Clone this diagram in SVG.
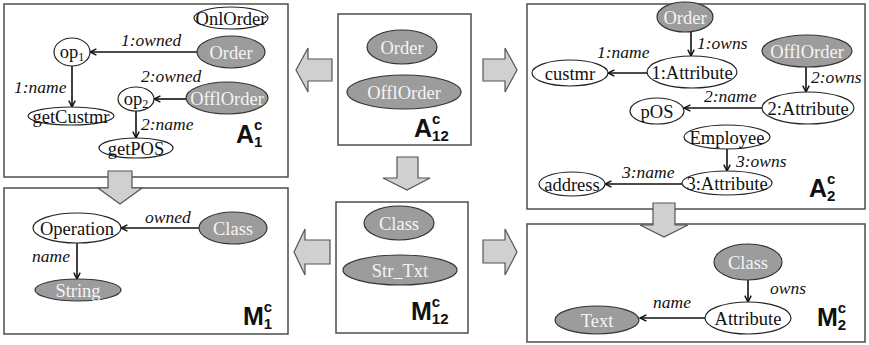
<svg xmlns="http://www.w3.org/2000/svg" width="869" height="345" viewBox="0 0 869 345">
  <style>
    .box { fill: #ffffff; stroke: #4d4d4d; stroke-width: 1.5; }
    .blk { fill: #d0d0d0; stroke: #555555; stroke-width: 1.2; stroke-linejoin: miter; }
    .nw { fill: #ffffff; stroke: #222222; stroke-width: 1.2; }
    .ng { fill: #9c9c9c; stroke: #333333; stroke-width: 1.2; }
    .t { font-family: "Liberation Serif", "Times New Roman", serif; font-size: 18.5px; text-anchor: middle; fill: #111111; }
    .tg { font-family: "Liberation Serif", "Times New Roman", serif; font-size: 18.5px; text-anchor: middle; fill: #f4f4f4; }
    .lbl { font-family: "Liberation Serif", "Times New Roman", serif; font-size: 17.5px; font-style: italic; fill: #111111; }
    .edge { fill: none; stroke: #111111; stroke-width: 1.6; marker-end: url(#arr); }
    .big { font-family: "Liberation Sans", Arial, sans-serif; font-weight: bold; fill: #111111; font-size: 25px; }
    .sup { font-size: 15px; }
  </style>
  <defs>
    <marker id="arr" viewBox="0 0 10 10" refX="9" refY="5" markerWidth="8" markerHeight="8" markerUnits="userSpaceOnUse" orient="auto">
      <path d="M1,1 L9,5 L1,9" fill="none" stroke="#111111" stroke-width="1.8"/>
    </marker>
  </defs>

  <!-- panels -->
  <g id="panels">
    <rect class="box" x="4" y="4" width="284" height="173"/>
    <rect class="box" x="338" y="14" width="133" height="131"/>
    <rect class="box" x="527" y="4" width="338" height="205"/>
    <rect class="box" x="4" y="188" width="284" height="146"/>
    <rect class="box" x="336" y="202" width="132" height="131"/>
    <rect class="box" x="527" y="224" width="338" height="118"/>
  </g>

  <!-- block arrows between panels -->
  <g id="block-arrows">
    <path class="blk" d="M332,59 L308,59 L308,48 L296,70 L308,92 L308,81 L332,81 Z"/>
    <path class="blk" d="M483,59 L505,59 L505,48 L517,70 L505,92 L505,81 L483,81 Z"/>
    <path class="blk" d="M397,157 L418,157 L418,178 L430,178 L407,190 L383,178 L397,178 Z"/>
    <path class="blk" d="M108,171 L132,171 L132,188 L142,188 L120,204 L98,188 L108,188 Z"/>
    <path class="blk" d="M653,203 L675,203 L675,225 L688,225 L664,237 L640,225 L653,225 Z"/>
    <path class="blk" d="M330,240 L305,240 L305,229 L294,252 L305,275 L305,264 L330,264 Z"/>
    <path class="blk" d="M483,240 L505,240 L505,229 L517,252 L505,275 L505,263 L483,263 Z"/>
  </g>

  <!-- connectors -->
  <g id="connectors">
    <!-- A1 -->
    <path class="edge" d="M197,52 L90,52"/>
    <path class="edge" d="M72,66 L72,107"/>
    <path class="edge" d="M186,99 L154,99"/>
    <path class="edge" d="M136,111 L136,138"/>
    <!-- A2 -->
    <path class="edge" d="M691,32 L691,56"/>
    <path class="edge" d="M647,73 L608,73"/>
    <path class="edge" d="M806,67 L806,92"/>
    <path class="edge" d="M762,108 L684,108"/>
    <path class="edge" d="M727,149 L727,171"/>
    <path class="edge" d="M682,184 L605,184"/>
    <!-- M1 -->
    <path class="edge" d="M199,228 L121,228"/>
    <path class="edge" d="M77,243 L77,279"/>
    <!-- M2 -->
    <path class="edge" d="M748,280 L748,302"/>
    <path class="edge" d="M705,318 L640,318"/>
  </g>

  <g id="edge-labels">
    <text class="lbl" x="121" y="46">1:owned</text>
    <text class="lbl" x="14" y="93">1:name</text>
    <text class="lbl" x="141" y="82">2:owned</text>
    <text class="lbl" x="141" y="130">2:name</text>
    <text class="lbl" x="697" y="49">1:owns</text>
    <text class="lbl" x="597" y="58">1:name</text>
    <text class="lbl" x="811" y="83">2:owns</text>
    <text class="lbl" x="704" y="102">2:name</text>
    <text class="lbl" x="736" y="167">3:owns</text>
    <text class="lbl" x="622" y="178">3:name</text>
    <text class="lbl" x="145" y="223">owned</text>
    <text class="lbl" x="32" y="262">name</text>
    <text class="lbl" x="770" y="294">owns</text>
    <text class="lbl" x="653" y="308">name</text>
  </g>

  <!-- A1 nodes -->
  <g id="a1-onlorder"><ellipse class="nw" cx="231" cy="18" rx="37" ry="11"/><text class="t" x="231" y="24.5">OnlOrder</text></g>
  <g id="a1-order"><ellipse class="ng" cx="231" cy="52" rx="34" ry="16"/><text class="tg" x="231" y="58.5">Order</text></g>
  <g id="a1-op1"><ellipse class="nw" cx="72" cy="52" rx="18" ry="14"/><text class="t" x="72" y="58">op<tspan font-size="12" dy="3">1</tspan></text></g>
  <g id="a1-getcustmr"><ellipse class="nw" cx="71" cy="116" rx="43" ry="9"/><text class="t" x="71" y="122.5">getCustmr</text></g>
  <g id="a1-op2"><ellipse class="nw" cx="136" cy="99" rx="18" ry="12"/><text class="t" x="136" y="105">op<tspan font-size="12" dy="3">2</tspan></text></g>
  <g id="a1-offlorder"><ellipse class="ng" cx="227" cy="98" rx="41" ry="16"/><text class="tg" x="227" y="104.5">OfflOrder</text></g>
  <g id="a1-getpos"><ellipse class="nw" cx="136" cy="148" rx="37" ry="10"/><text class="t" x="136" y="154.5">getPOS</text></g>
  <text class="big" x="236" y="143">A<tspan class="sup" dy="-13">c</tspan><tspan class="sup" dx="-8.3" dy="17">1</tspan></text>

  <!-- A12 nodes -->
  <g id="a12-order"><ellipse class="ng" cx="402" cy="47" rx="35" ry="17"/><text class="tg" x="402" y="53.5">Order</text></g>
  <g id="a12-offlorder"><ellipse class="ng" cx="404" cy="92" rx="57" ry="17"/><text class="tg" x="404" y="98.5">OfflOrder</text></g>
  <text class="big" x="414" y="137">A<tspan class="sup" dy="-13">c</tspan><tspan class="sup" dx="-8.3" dy="17">12</tspan></text>

  <!-- A2 nodes -->
  <g id="a2-order"><ellipse class="ng" cx="685" cy="17" rx="28" ry="15"/><text class="tg" x="685" y="23.5">Order</text></g>
  <g id="a2-attr1"><ellipse class="nw" cx="692" cy="72" rx="45" ry="16"/><text class="t" x="692" y="78.5">1:Attribute</text></g>
  <g id="a2-custmr"><ellipse class="nw" cx="570" cy="73" rx="38" ry="13"/><text class="t" x="570" y="79.5">custmr</text></g>
  <g id="a2-offlorder"><ellipse class="ng" cx="807" cy="51" rx="45" ry="16"/><text class="tg" x="807" y="57.5">OfflOrder</text></g>
  <g id="a2-attr2"><ellipse class="nw" cx="808" cy="108" rx="46" ry="16"/><text class="t" x="808" y="114.5">2:Attribute</text></g>
  <g id="a2-pos"><ellipse class="nw" cx="657" cy="111" rx="27" ry="13"/><text class="t" x="657" y="117.5">pOS</text></g>
  <g id="a2-employee"><ellipse class="nw" cx="727" cy="137" rx="43" ry="12"/><text class="t" x="727" y="143.5">Employee</text></g>
  <g id="a2-attr3"><ellipse class="nw" cx="727" cy="183" rx="45" ry="12"/><text class="t" x="727" y="189.5">3:Attribute</text></g>
  <g id="a2-address"><ellipse class="nw" cx="572" cy="184" rx="33" ry="12"/><text class="t" x="572" y="190.5">address</text></g>
  <text class="big" x="809" y="197">A<tspan class="sup" dy="-13">c</tspan><tspan class="sup" dx="-8.3" dy="17">2</tspan></text>

  <!-- M1 nodes -->
  <g id="m1-operation"><ellipse class="nw" cx="77" cy="228" rx="44" ry="15"/><text class="t" x="77" y="234.5">Operation</text></g>
  <g id="m1-class"><ellipse class="ng" cx="233" cy="228" rx="34" ry="16"/><text class="tg" x="233" y="234.5">Class</text></g>
  <g id="m1-string"><ellipse class="ng" cx="78" cy="290" rx="43" ry="11"/><text class="tg" x="78" y="296.5">String</text></g>
  <text class="big" x="243" y="325">M<tspan class="sup" dy="-13">c</tspan><tspan class="sup" dx="-8.3" dy="17">1</tspan></text>

  <!-- M12 nodes -->
  <g id="m12-class"><ellipse class="ng" cx="399" cy="223" rx="35" ry="17"/><text class="tg" x="399" y="229.5">Class</text></g>
  <g id="m12-strtxt"><ellipse class="ng" cx="400" cy="270" rx="57" ry="15"/><text class="tg" x="400" y="276.5">Str_Txt</text></g>
  <text class="big" x="411" y="320">M<tspan class="sup" dy="-13">c</tspan><tspan class="sup" dx="-8.3" dy="17">12</tspan></text>

  <!-- M2 nodes -->
  <g id="m2-class"><ellipse class="ng" cx="748" cy="262" rx="34" ry="18"/><text class="tg" x="748" y="268.5">Class</text></g>
  <g id="m2-attribute"><ellipse class="nw" cx="748" cy="318" rx="43" ry="16"/><text class="t" x="748" y="324.5">Attribute</text></g>
  <g id="m2-text"><ellipse class="ng" cx="597" cy="320" rx="42" ry="14"/><text class="tg" x="597" y="326.5">Text</text></g>
  <text class="big" x="817" y="326">M<tspan class="sup" dy="-13">c</tspan><tspan class="sup" dx="-8.3" dy="17">2</tspan></text>
</svg>
